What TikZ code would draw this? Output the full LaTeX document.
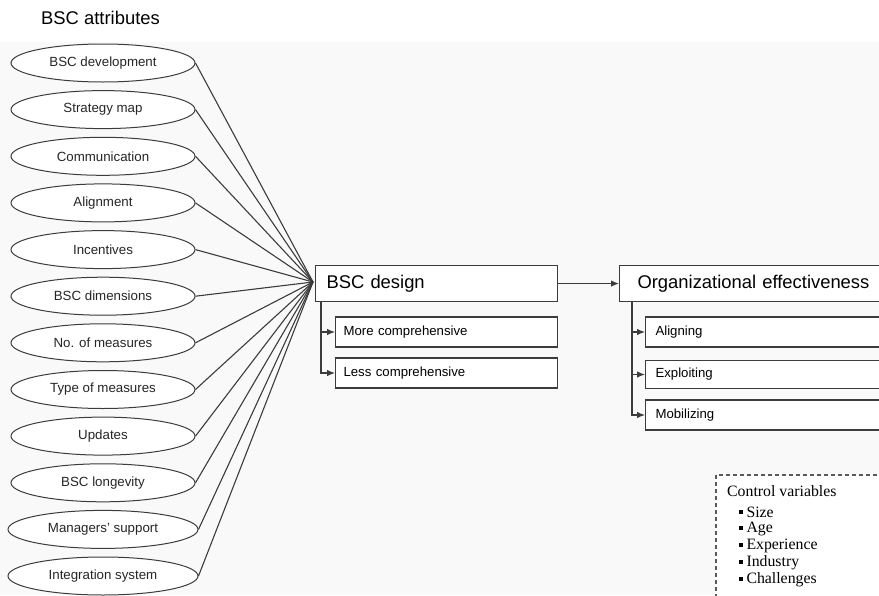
\documentclass[tikz,border=0pt]{standalone}
\usepackage{fontspec}
\setmainfont{Liberation Sans}
\newfontfamily\serifcv{Liberation Serif}
\usetikzlibrary{shapes.geometric,arrows.meta}
\definecolor{ln}{RGB}{60,60,60}
\definecolor{bgc}{RGB}{249,249,249}
\tikzset{
  attr/.style={ellipse, draw=ln, line width=1pt, fill=white, minimum width=184pt, minimum height=38pt, inner sep=0pt, font=\fontsize{13.3}{15}\selectfont, text=black!85},
  conn/.style={draw=ln, line width=1.1pt},
  bigbox/.style={draw=ln, line width=1.1pt, fill=white, minimum height=36pt, inner ysep=0pt, align=left, anchor=north west, font=\fontsize{18.4}{20}\selectfont},
  subbox/.style={draw=ln, line width=1.1pt, fill=white, minimum height=30pt, inner ysep=0pt, align=left, anchor=west, font=\fontsize{13.2}{15}\selectfont},
  arr/.style={draw=ln, line width=1.1pt, -{Latex[length=8pt,width=6.5pt]}},
  cvtext/.style={anchor=west, inner sep=0pt, font=\serifcv\fontsize{15.8}{17}\selectfont}
}
\newcommand{\sqb}{\rule[3pt]{3.8pt}{3.8pt}\hspace{3.5pt}}
\begin{document}
\begin{tikzpicture}[x=1pt,y=-1pt]
\useasboundingbox (0,0) rectangle (879,595);
\clip (0,0) rectangle (879,595);
\fill[bgc] (0,42) rectangle (879,595);
\node[anchor=west, inner sep=0pt, font=\fontsize{18.4}{20}\selectfont] (title) at (41,18) {BSC attributes};
\coordinate (conv) at (313,282);
\node[attr] (a1) at (103,63) {BSC development};
\node[attr] (a2) at (103,109.6) {Strategy map};
\node[attr] (a3) at (103,156.3) {Communication};
\node[attr] (a4) at (103,202.9) {Alignment};
\node[attr] (a5) at (103,249.6) {Incentives};
\node[attr] (a6) at (103,296.2) {BSC dimensions};
\node[attr] (a7) at (103,342.8) {No. of measures};
\node[attr] (a8) at (103,389.5) {Type of measures};
\node[attr] (a9) at (103,436.1) {Updates};
\node[attr] (a10) at (103,482.8) {BSC longevity};
\node[attr, minimum width=190pt] (a11) at (103,529.4) {Managers' support};
\node[attr, minimum width=190pt] (a12) at (103,576) {Integration system};
\foreach \i in {1,...,12} {\draw[conn] (a\i.east) -- (conv);}
\node[bigbox, minimum width=242pt, inner xsep=11pt, text width=220pt] (bd) at (315,265) {BSC design};
\node[subbox, minimum width=222pt, inner xsep=8pt, text width=206pt] (more) at (335,332) {More comprehensive};
\node[subbox, minimum width=222pt, inner xsep=8pt, text width=206pt] (less) at (335,373) {Less comprehensive};
\draw[arr] ([xshift=6pt]bd.south west) |- (more.west);
\draw[arr] ([xshift=6pt]bd.south west) |- (less.west);
\node[bigbox, minimum width=300pt, inner xsep=18pt, text width=264pt] (oe) at (619,265) {Organizational effectiveness};
\draw[arr] (bd.east) -- (oe.west);
\node[subbox, minimum width=260pt, inner xsep=10pt, text width=240pt] (al) at (645,332) {Aligning};
\node[subbox, minimum width=260pt, inner xsep=10pt, text width=240pt, minimum height=28pt] (ex) at (645,374.5) {Exploiting};
\node[subbox, minimum width=260pt, inner xsep=10pt, text width=240pt] (mo) at (645,415) {Mobilizing};
\draw[arr] ([xshift=13pt]oe.south west) |- (al.west);
\draw[arr] ([xshift=13pt]oe.south west) |- (ex.west);
\draw[arr] ([xshift=13pt]oe.south west) |- (mo.west);
\draw[draw=ln!85, line width=1.1pt, dash pattern=on 4pt off 3pt, fill=white] (716,475) rectangle (900,620);
\node[cvtext] (cv) at (727,491) {Control variables};
\node[cvtext] (c1) at (739,512) {\sqb Size};
\node[cvtext] (c2) at (739,529) {\sqb Age};
\node[cvtext] (c3) at (739,546) {\sqb Experience};
\node[cvtext] (c4) at (739,563) {\sqb Industry};
\node[cvtext] (c5) at (739,580) {\sqb Challenges};
\end{tikzpicture}
\end{document}
